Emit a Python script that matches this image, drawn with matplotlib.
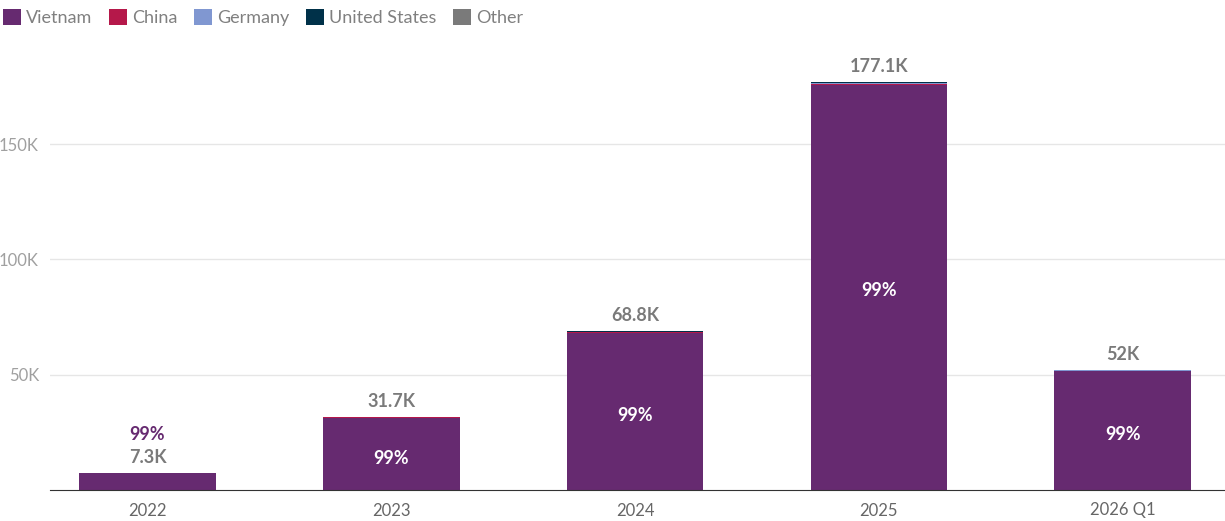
import matplotlib
matplotlib.use('Agg')
import matplotlib.pyplot as plt
from matplotlib.patches import Patch
import numpy as np

plt.rcParams['font.family'] = ['Lato', 'DejaVu Sans']

years = ['2022', '2023', '2024', '2025', '2026 Q1']
vietnam = [7.23, 31.38, 68.1, 175.6, 51.6]
china = [0.03, 0.12, 0.25, 0.6, 0.2]
germany = [0.01, 0.05, 0.15, 0.3, 0.08]
united_states = [0.02, 0.1, 0.25, 0.5, 0.1]
other = [0.01, 0.05, 0.05, 0.1, 0.02]
totals = ['7.3K', '31.7K', '68.8K', '177.1K', '52K']
shares = ['99%', '99%', '99%', '99%', '99%']

series = [('Vietnam', vietnam, '#662a70'), ('China', china, '#b5184a'),
          ('Germany', germany, '#8097d1'), ('United States', united_states, '#003149'),
          ('Other', other, '#7a7a7a')]

fig = plt.figure(figsize=(12.25, 5.21), dpi=100)
ax = fig.add_axes([50/1225, 31/521, 1175/1225, 430/521])

x = np.arange(len(years))
bottom = np.zeros(len(years))
for name, vals, col in series:
    ax.bar(x, vals, 0.56, bottom=bottom, color=col, zorder=2)
    bottom += np.array(vals)

for i in range(len(years)):
    top = bottom[i]
    ax.text(x[i], top + 3, totals[i], ha='center', va='bottom', fontsize=13,
            fontweight='bold', color='#7a7a7a')
    if top > 20:
        ax.text(x[i], top / 2 - 2, shares[i], ha='center', va='center', fontsize=13,
                fontweight='bold', color='white', zorder=3)
    else:
        ax.text(x[i], top + 13, shares[i], ha='center', va='bottom', fontsize=13,
                fontweight='bold', color='#662a70')

ax.set_xlim(-0.4, 4.42)
ax.set_ylim(0, 186.5)
ax.set_yticks([50, 100, 150])
ax.set_yticklabels(['50K', '100K', '150K'])
ax.yaxis.grid(True, color='#e6e6e6', linewidth=1, zorder=0)
ax.set_xticks(x)
ax.set_xticklabels(years)
ax.tick_params(axis='y', length=0, labelsize=12, labelcolor='#a0a0a0', pad=8)
ax.tick_params(axis='x', length=0, labelsize=12, labelcolor='#666666', pad=9)
for s in ['top', 'right', 'left']:
    ax.spines[s].set_visible(False)
ax.spines['bottom'].set_color('#333333')

handles = [Patch(facecolor=c, label=n) for n, v, c in series]
fig.legend(handles=handles, loc='upper left', bbox_to_anchor=(-0.011, 1.014), ncol=5,
           frameon=False, fontsize=13, handlelength=1.0, handleheight=1.0,
           handletextpad=0.3, columnspacing=0.9, labelcolor='#808080')

fig.savefig('out.png', dpi=100)
